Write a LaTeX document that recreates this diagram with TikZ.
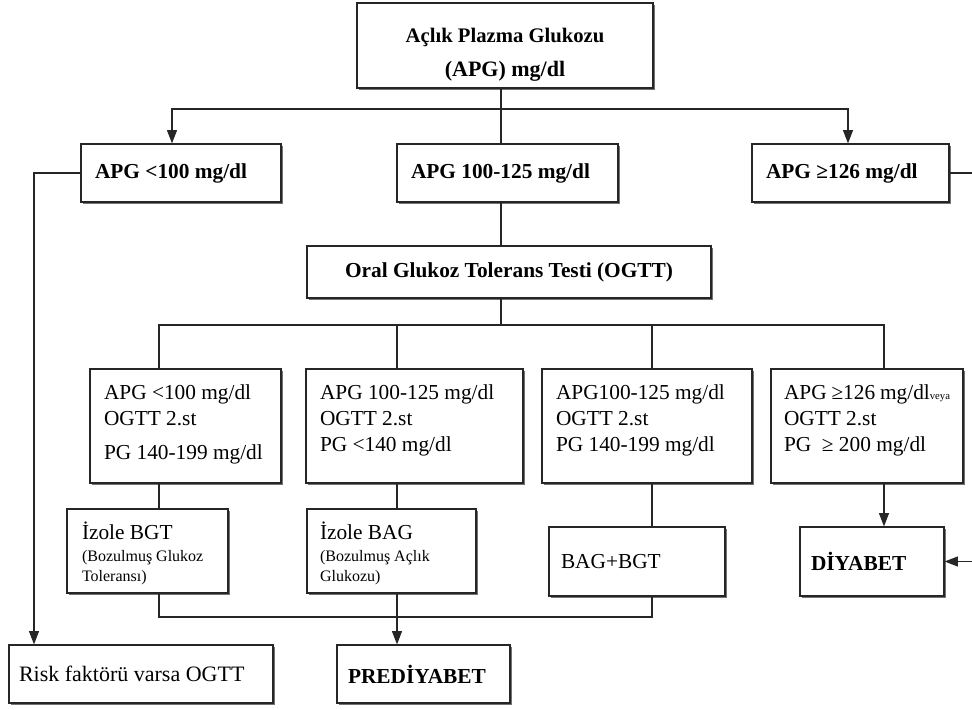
\documentclass[tikz,border=0pt]{standalone}
\usepackage{fontspec}
\setmainfont{Liberation Serif}
\usetikzlibrary{arrows.meta,shadows}
\newlength\flbw \newlength\flbh
% style, name, x1, y1, x2, y2, pad, vertical pos, content
\newcommand\flowbox[9]{%
  \pgfmathsetlength\flbw{(#5-#3)*0.75pt-2*(#7)*0.75pt}%
  \pgfmathsetlength\flbh{(#6-#4)*0.75pt}%
  \node[box,#1,minimum width={(#5-#3)*0.75pt},minimum height={(#6-#4)*0.75pt}]
    (#2) at ({(#3+#5)/2},{(#4+#6)/2}) {\parbox[c][\flbh][#8]{\flbw}{#9}};}
\tikzset{
  box/.style={draw=black!85, line width=0.9pt, fill=white, inner sep=0pt,
    font=\fontsize{16}{19.5}\selectfont,
    drop shadow={shadow xshift=1.5pt, shadow yshift=-1.5pt, fill=black!55, opacity=1}},
  conn/.style={draw=black!85, line width=0.9pt},
  arr/.style={conn, -{Triangle[length=10pt,width=7.5pt]}}
}
\begin{document}
\begin{tikzpicture}[x=0.75pt,y=-0.75pt]
\useasboundingbox (0,0) rectangle (972,710);
\clip (0,0) rectangle (972,710);
\fill[white] (0,0) rectangle (972,710);

\flowbox{}{top}{357}{3}{653}{88}{5}{t}{\centering\bfseries\fontsize{15.5}{25.5}\selectfont
  \rule{0pt}{30pt}Açlık Plazma Glukozu\\ \fontsize{16.5}{25.5}\selectfont(APG) mg/dl}
\flowbox{}{lo}{81}{144}{281}{202}{14}{c}{\bfseries APG <100 mg/dl}
\flowbox{}{mid}{397}{144}{618}{202}{14}{c}{\bfseries APG 100-125 mg/dl}
\flowbox{}{hi}{752}{144}{949}{202}{14}{c}{\bfseries APG ≥126 mg/dl}
\flowbox{}{ogtt}{307}{246}{711}{298}{5}{c}{\centering\bfseries Oral Glukoz Tolerans Testi (OGTT)}

\flowbox{}{b1}{90}{369}{281}{483}{14}{t}{\rule{0pt}{22.5pt}APG <100 mg/dl\\OGTT 2.st\\[6.5pt]PG 140-199 mg/dl}
\flowbox{}{b2}{306}{369}{523}{483}{14}{t}{\rule{0pt}{22.5pt}APG 100-125 mg/dl\\OGTT 2.st\\PG <140 mg/dl}
\flowbox{}{b3}{542}{369}{752}{483}{14}{t}{\rule{0pt}{22.5pt}APG100-125 mg/dl\\OGTT 2.st\\PG 140-199 mg/dl}
\flowbox{}{b4}{771}{369}{963}{483}{13}{t}{\rule{0pt}{22.5pt}APG ≥126 mg/dl{\fontsize{8}{8}\selectfont veya}\\OGTT 2.st\\PG~\ ≥ 200 mg/dl}

\flowbox{}{bgt}{67}{509}{228}{593}{15}{t}{{\fontsize{16}{19}\selectfont\rule{0pt}{22.5pt}İzole BGT\par}%
  {\fontsize{12}{17}\selectfont (Bozulmuş Glukoz\par}{\fontsize{12}{15}\selectfont Toleransı)\par}}
\flowbox{}{bag}{307}{509}{476}{593}{13}{t}{{\fontsize{16}{19}\selectfont\rule{0pt}{22.5pt}İzole BAG\par}%
  {\fontsize{12}{17}\selectfont (Bozulmuş Açlık\par}{\fontsize{12}{15}\selectfont Glukozu)\par}}
\flowbox{}{bagbgt}{549}{527}{725}{596}{12}{c}{BAG+BGT}
\flowbox{}{diy}{800}{527}{944}{596}{11}{c}{\bfseries DİYABET}
\flowbox{}{risk}{9}{645}{273}{703}{10}{c}{\fontsize{16.5}{19.5}\selectfont Risk faktörü varsa OGTT}
\flowbox{}{pre}{337}{645}{510}{703}{11}{c}{\bfseries PREDİYABET}

% connectors
\coordinate (j1) at (501,109);
\coordinate (j2) at (501,325);
\coordinate (j3) at (397,617);
\draw[conn] (top.south -| j1) -- (mid.north -| j1);
\draw[arr] (j1) -| (lo.north -| 172,0);
\draw[arr] (j1) -| (hi.north -| 848,0);
\draw[arr] (lo.west) -| (risk.north -| 34,0);
\draw[arr] (hi.east) -- ++(45,0) |- (diy.east);
\draw[conn] (mid.south -| j2) -- (ogtt.north -| j2);
\draw[conn] (ogtt.south -| j2) -- (j2);
\draw[conn] (b1.north -| 159,0) |- (j2) -| (b4.north -| 884,0);
\draw[conn] (j2 -| 397,0) -- (b2.north -| 397,0);
\draw[conn] (j2 -| 652,0) -- (b3.north -| 652,0);
\draw[conn] (b1.south -| 159,0) -- (bgt.north -| 159,0);
\draw[conn] (b2.south -| 397,0) -- (bag.north -| 397,0);
\draw[conn] (b3.south -| 652,0) -- (bagbgt.north -| 652,0);
\draw[arr] (b4.south -| 884,0) -- (diy.north -| 884,0);
\draw[conn] (bgt.south -| 159,0) |- (j3) -| (bagbgt.south -| 652,0);
\draw[arr] (bag.south -| j3) -- (pre.north -| j3);
\end{tikzpicture}
\end{document}
